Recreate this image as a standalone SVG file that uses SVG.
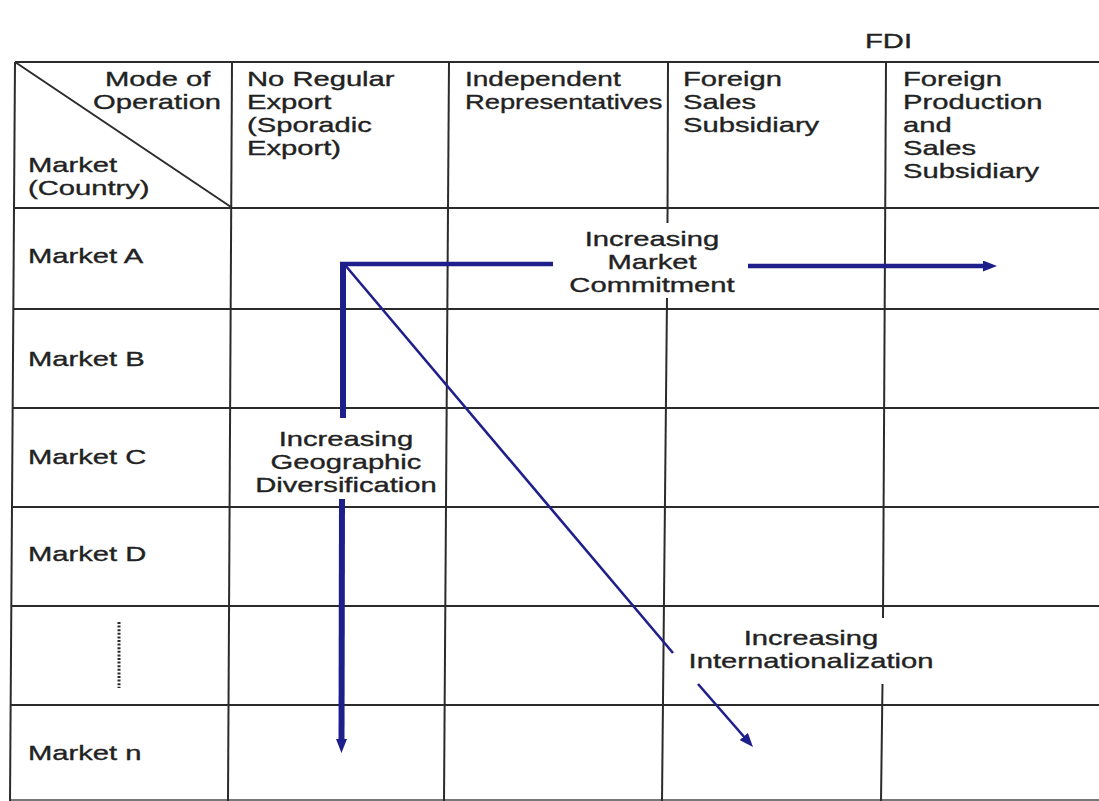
<svg xmlns="http://www.w3.org/2000/svg" width="1099" height="801" viewBox="0 0 1099 801">
  <style>
    .grid { stroke: #2b2b2b; stroke-width: 2; fill: none; }
    .t { font-family: "Liberation Sans", Arial, Helvetica, sans-serif; font-size: 21px; fill: #222; stroke: #222; stroke-width: 0.35px; }
    .mid { text-anchor: middle; }
    .flow { stroke: #1f1f8c; fill: none; stroke-linecap: butt; }
  </style>
  <defs>
    <marker id="head" markerUnits="userSpaceOnUse" viewBox="0 0 14 11" markerWidth="14" markerHeight="11" refX="4" refY="5.5" orient="auto">
      <path d="M0,0 L14,5.5 L0,11 z" fill="#1f1f8c"/>
    </marker>
  </defs>

  <rect width="1099" height="801" fill="#ffffff"/>

  <!-- table rules -->
  <g id="grid" class="grid">
    <line x1="15" y1="62" x2="1099" y2="62"/>
    <line x1="15" y1="208" x2="1099" y2="208"/>
    <line x1="13" y1="309" x2="1099" y2="309"/>
    <line x1="13" y1="408" x2="1099" y2="408"/>
    <line x1="12" y1="507" x2="1099" y2="507"/>
    <line x1="12" y1="606" x2="1099" y2="606"/>
    <line x1="11" y1="705" x2="1099" y2="705"/>
    <line x1="10" y1="800" x2="1099" y2="800" stroke="#777"/>
    <line x1="15" y1="62" x2="10" y2="801"/>
    <line x1="232" y1="62" x2="228" y2="801"/>
    <line x1="449" y1="62" x2="444" y2="801"/>
    <line x1="668" y1="62" x2="667.5" y2="223"/>
    <line x1="667" y1="298" x2="662" y2="801"/>
    <line x1="886" y1="62" x2="883" y2="618"/>
    <line x1="882.5" y1="684" x2="881" y2="801"/>
    <line x1="15" y1="62" x2="231" y2="207"/>
    <line x1="119" y1="622" x2="119" y2="688" stroke-width="3" stroke-dasharray="2 1.6"/>
  </g>

  <text id="fdi" class="t" transform="translate(865 48) scale(1.39 1)">FDI</text>

  <!-- header cells -->
  <g id="corner-cell">
    <text class="t" transform="translate(105 86) scale(1.39 1)">Mode of</text>
    <text class="t" transform="translate(93 109) scale(1.39 1)">Operation</text>
    <text class="t" transform="translate(28 172) scale(1.39 1)"><tspan x="0">Market</tspan><tspan x="0" dy="23">(Country)</tspan></text>
  </g>
  <g id="col-sporadic">
    <text class="t" transform="translate(247 86) scale(1.39 1)"><tspan x="0">No Regular</tspan><tspan x="0" dy="23">Export</tspan><tspan x="0" dy="23">(Sporadic</tspan><tspan x="0" dy="23">Export)</tspan></text>
  </g>
  <g id="col-representatives">
    <text class="t" transform="translate(465 86) scale(1.39 1)"><tspan x="0" textLength="112" lengthAdjust="spacingAndGlyphs">Independent</tspan><tspan x="0" dy="23" textLength="142" lengthAdjust="spacingAndGlyphs">Representatives</tspan></text>
  </g>
  <g id="col-sales-sub">
    <text class="t" transform="translate(683 86) scale(1.39 1)"><tspan x="0">Foreign</tspan><tspan x="0" dy="23">Sales</tspan><tspan x="0" dy="23">Subsidiary</tspan></text>
  </g>
  <g id="col-production-sub">
    <text class="t" transform="translate(903 86) scale(1.39 1)"><tspan x="0">Foreign</tspan><tspan x="0" dy="23">Production</tspan><tspan x="0" dy="23">and</tspan><tspan x="0" dy="23">Sales</tspan><tspan x="0" dy="23">Subsidiary</tspan></text>
  </g>

  <!-- market rows -->
  <g id="row-a"><text class="t" transform="translate(28 263) scale(1.39 1)">Market A</text></g>
  <g id="row-b"><text class="t" transform="translate(28 366) scale(1.39 1)">Market B</text></g>
  <g id="row-c"><text class="t" transform="translate(28 464) scale(1.39 1)">Market C</text></g>
  <g id="row-d"><text class="t" transform="translate(28 561) scale(1.39 1)">Market D</text></g>
  <g id="row-n"><text class="t" transform="translate(28 760) scale(1.39 1)">Market n</text></g>

  <!-- arrows -->
  <g id="connectors">
    <line class="flow" x1="340" y1="264" x2="553" y2="264" stroke-width="4.5"/>
    <line class="flow" x1="748" y1="266" x2="987" y2="266" stroke-width="4.5" marker-end="url(#head)"/>
    <line class="flow" x1="343" y1="262" x2="343" y2="418" stroke-width="6"/>
    <line class="flow" x1="342" y1="499" x2="341.5" y2="743" stroke-width="6" marker-end="url(#head)"/>
    <line class="flow" x1="345" y1="265" x2="673" y2="653" stroke-width="2.6"/>
    <line class="flow" x1="698" y1="684" x2="746.4" y2="739.5" stroke-width="2.6" marker-end="url(#head)"/>
  </g>

  <!-- arrow labels -->
  <g id="label-commitment">
    <text class="t mid" transform="translate(652 246) scale(1.39 1)"><tspan x="0">Increasing</tspan><tspan x="0" dy="23">Market</tspan><tspan x="0" dy="23">Commitment</tspan></text>
  </g>
  <g id="label-geographic">
    <text class="t mid" transform="translate(346 446) scale(1.39 1)"><tspan x="0">Increasing</tspan><tspan x="0" dy="23">Geographic</tspan><tspan x="0" dy="23">Diversification</tspan></text>
  </g>
  <g id="label-internationalization">
    <text class="t mid" transform="translate(811 645) scale(1.39 1)"><tspan x="0">Increasing</tspan><tspan x="0" dy="23">Internationalization</tspan></text>
  </g>
</svg>
